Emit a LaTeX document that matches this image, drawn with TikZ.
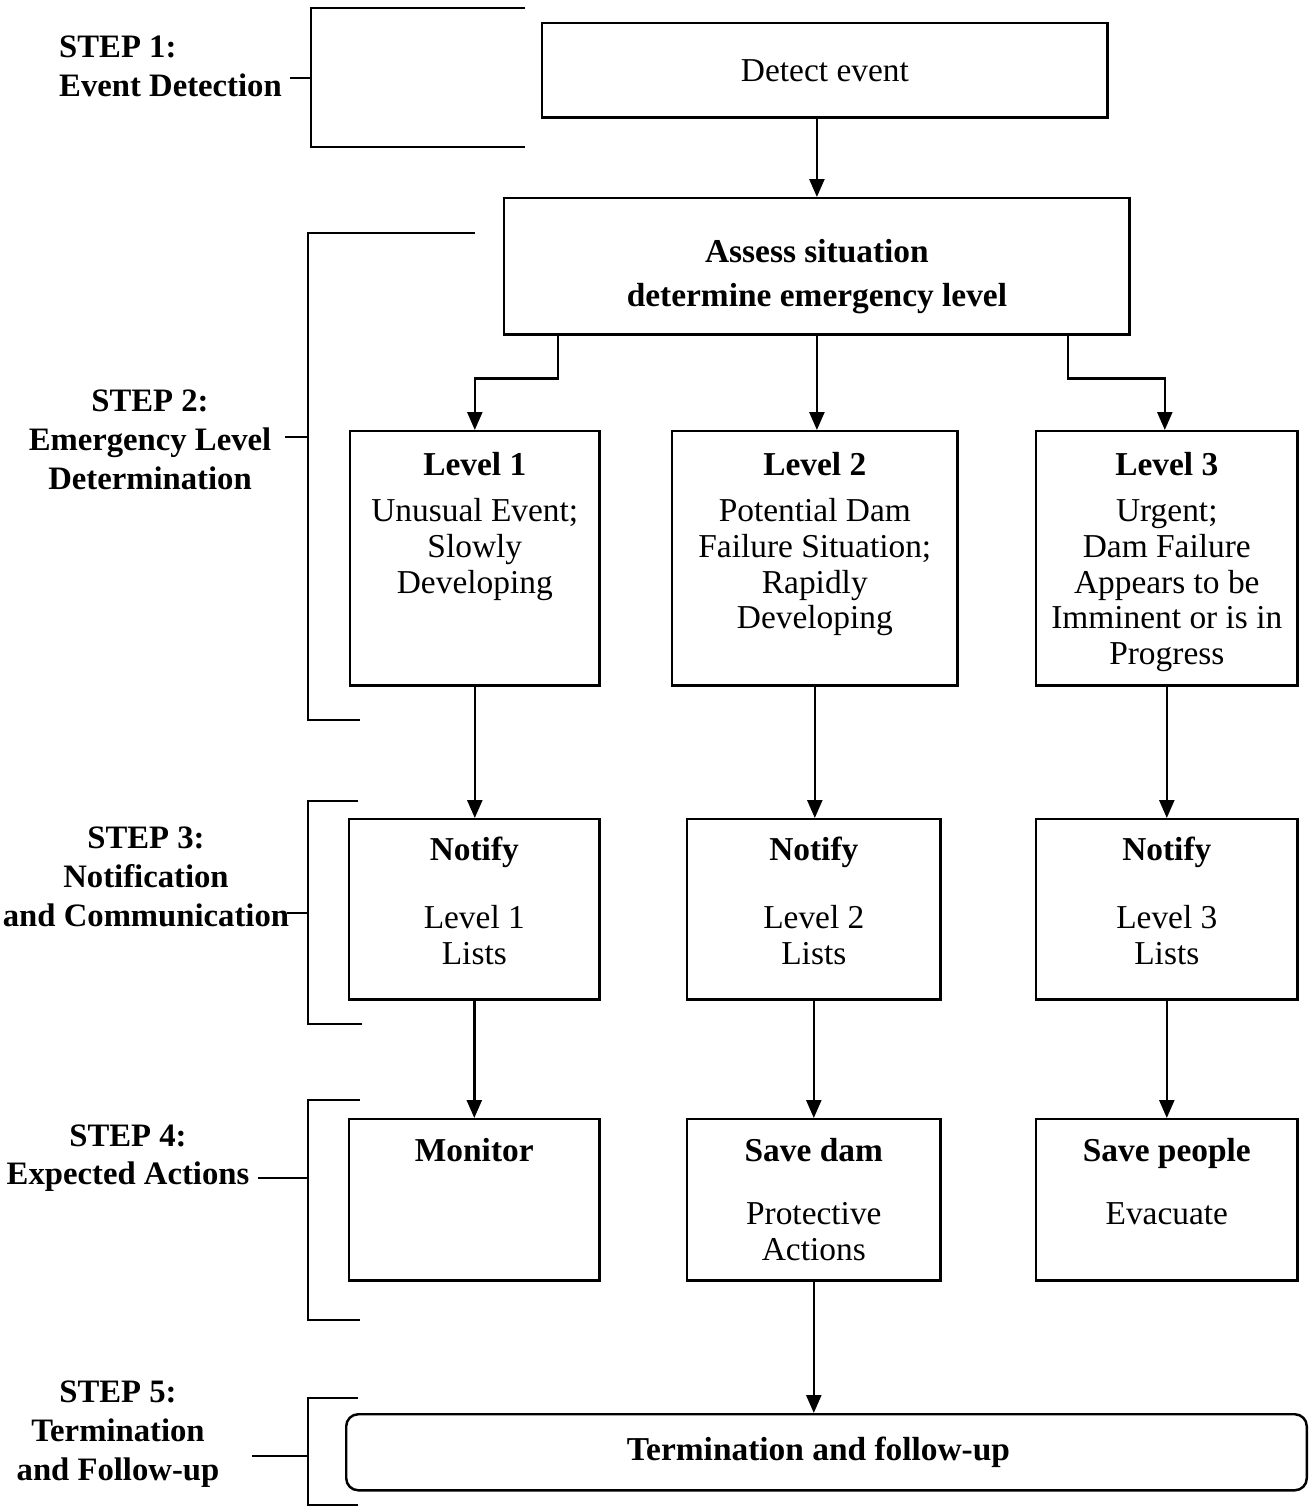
\documentclass[tikz,border=0pt]{standalone}
\usepackage{fontspec}
\setmainfont{Liberation Serif}
\usetikzlibrary{arrows.meta,positioning}

\begin{document}
\begin{tikzpicture}
        [x=0.01cm, y=-0.01cm,
        line width=0.7pt,
        font=\fontsize{9.5}{10.2}\selectfont,
        box/.style = {draw, rectangle, inner sep=0pt, anchor=north west},
        boxtext/.style = {anchor=north, align=center, inner sep=0pt},
        steplabel/.style = {align=center, inner sep=0pt,
        font=\fontsize{9.3}{11}\selectfont\bfseries},
        arr/.style = {-{Triangle[width=0.15cm,length=0.18cm]}}]

        \useasboundingbox (0,0) rectangle (1308,1508);

        % Step labels
        \node[steplabel, align=left, anchor=west] (s1) at (58,66) {STEP 1:\\ Event Detection};
        \node[steplabel] (s2) at (150,440) {STEP 2:\\ Emergency Level\\ Determination};
        \node[steplabel] (s3) at (146,877) {STEP 3:\\ Notification\\ and Communication};
        \node[steplabel] (s4) at (128,1158) {STEP 4:\\ Expected Actions};
        \node[steplabel] (s5) at (118,1434) {STEP 5:\\ Termination\\ and Follow-up};

        % Brackets
        \draw (525,8) -- (311,8) -- (311,147) -- (525,147);
        \draw (290,78) -- (311,78);
        \draw (475,233) -- (308,233) -- (308,720) -- (360,720);
        \draw (285,437) -- (308,437);
        \draw (358,801) -- (308,801) -- (308,1024) -- (362,1024);
        \draw (287,913) -- (308,913);
        \draw (360,1100) -- (308,1100) -- (308,1320) -- (360,1320);
        \draw (258,1178) -- (308,1178);
        \draw (358,1398) -- (308,1398) -- (308,1505) -- (358,1505);
        \draw (252,1456) -- (308,1456);

        % Detect and assess
        \node[box, minimum width=5.65cm, minimum height=0.94cm] (detect) at (541,22) {Detect event};
        \node[box, minimum width=6.25cm, minimum height=1.36cm] (assess) at (503,197) {};
        \node[boxtext, anchor=center, font=\fontsize{9.5}{10.2}\selectfont\bfseries]
        (asstxt) at ([yshift=-0.1cm]assess.center)
        {Assess situation\\[0.08cm] determine emergency level};

        % Levels
        \node[box, minimum width=2.49cm, minimum height=2.54cm] (l1) at (349,430) {};
        \node[box, minimum width=2.85cm, minimum height=2.54cm] (l2) at (671,430) {};
        \node[box, minimum width=2.61cm, minimum height=2.54cm] (l3) at (1035,430) {};
        \node[boxtext] (l1txt) at ([yshift=-0.21cm]l1.north)
        {\textbf{Level 1}\\[0.1cm] Unusual Event;\\ Slowly\\ Developing};
        \node[boxtext] (l2txt) at ([yshift=-0.21cm]l2.north)
        {\textbf{Level 2}\\[0.1cm] Potential Dam\\ Failure Situation;\\ Rapidly\\ Developing};
        \node[boxtext] (l3txt) at ([yshift=-0.21cm]l3.north)
        {\textbf{Level 3}\\[0.1cm] Urgent;\\ Dam Failure\\ Appears to be\\ Imminent or is in\\ Progress};

        % Notification
        \node[box, minimum width=2.50cm, minimum height=1.80cm] (n1) at (348,818) {};
        \node[box, minimum width=2.53cm, minimum height=1.80cm] (n2) at (686,818) {};
        \node[box, minimum width=2.61cm, minimum height=1.80cm] (n3) at (1035,818) {};
        \node[boxtext] (n1txt) at ([yshift=-0.18cm]n1.north) {\textbf{Notify}\\[0.32cm] Level 1\\ Lists};
        \node[boxtext] (n2txt) at ([yshift=-0.18cm]n2.north) {\textbf{Notify}\\[0.32cm] Level 2\\ Lists};
        \node[boxtext] (n3txt) at ([yshift=-0.18cm]n3.north) {\textbf{Notify}\\[0.32cm] Level 3\\ Lists};

        % Actions
        \node[box, minimum width=2.50cm, minimum height=1.61cm] (a1) at (348,1118) {};
        \node[box, minimum width=2.53cm, minimum height=1.61cm] (a2) at (686,1118) {};
        \node[box, minimum width=2.61cm, minimum height=1.61cm] (a3) at (1035,1118) {};
        \node[boxtext] (a1txt) at ([yshift=-0.19cm]a1.north) {\textbf{Monitor}};
        \node[boxtext] (a2txt) at ([yshift=-0.19cm]a2.north) {\textbf{Save dam}\\[0.27cm] Protective\\ Actions};
        \node[boxtext] (a3txt) at ([yshift=-0.19cm]a3.north) {\textbf{Save people}\\[0.27cm] Evacuate};

        % Termination
        \node[box, rounded corners=0.12cm, minimum width=9.60cm, minimum height=0.76cm] (term) at (345,1413) {};
        \node[boxtext, anchor=center, font=\fontsize{9.5}{10.2}\selectfont\bfseries]
        (termtxt) at ([xshift=-0.08cm]term.center) {Termination and follow-up};

        % Arrows
        \draw[arr] (detect.south -| assess.north) -- (assess.north);
        \draw[arr] ([xshift=0.55cm]assess.south west) -- ++(0,43) -| (l1.north);
        \draw[arr] (assess.south) -- (assess.south |- l2.north);
        \draw[arr] ([xshift=-0.63cm]assess.south east) -- ++(0,43) -| ([xshift=-0.02cm]l3.north);
        \draw[arr] (l1.south) -- (l1.south |- n1.north);
        \draw[arr] (l2.south) -- (l2.south |- n2.north);
        \draw[arr] (l3.south) -- (l3.south |- n3.north);
        \draw[arr] (n1.south) -- (n1.south |- a1.north);
        \draw[arr] (n2.south) -- (n2.south |- a2.north);
        \draw[arr] (n3.south) -- (n3.south |- a3.north);
        \draw[arr] (a2.south) -- (a2.south |- term.north);
    \end{tikzpicture}
\end{document}
